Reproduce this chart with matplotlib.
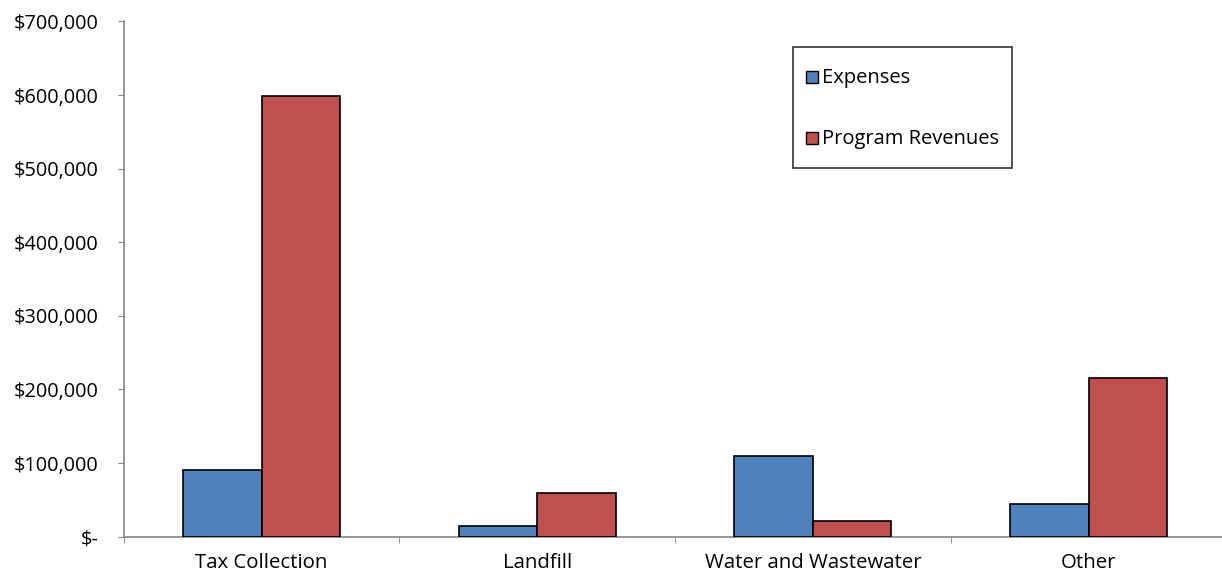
import matplotlib
matplotlib.use("Agg")
import matplotlib.pyplot as plt
import numpy as np
from matplotlib.ticker import FuncFormatter, FixedLocator
from matplotlib.legend_handler import HandlerPatch, update_from_first_child
from matplotlib.patches import Rectangle
from matplotlib.container import BarContainer

categories = ["Tax Collection", "Landfill", "Water and Wastewater", "Other"]
expenses = [90000, 14500, 110000, 45000]
program_revenues = [599000, 60000, 21000, 216000]
y_ticks = [0, 100000, 200000, 300000, 400000, 500000, 600000, 700000]

plt.rcParams["font.family"] = ["Open Sans", "DejaVu Sans"]

fig = plt.figure(figsize=(12.22, 5.75), dpi=100)
ax = fig.add_axes([0.1012, 0.0666, 0.9024, 0.8962])

x = np.arange(len(categories))
w = 0.285
ax.bar(x - w / 2, expenses, w, color="#4F81BD", edgecolor="black", linewidth=1.2,
       label="Expenses", zorder=3)
ax.bar(x + w / 2, program_revenues, w, color="#C0504D", edgecolor="black", linewidth=1.2,
       label="Program Revenues", zorder=3)

ax.set_xlim(-0.5, len(categories) - 0.5)
ax.set_ylim(0, 700000)
ax.set_yticks(y_ticks)
ax.yaxis.set_major_formatter(FuncFormatter(lambda v, p: "$-" if v == 0 else f"${v:,.0f}"))

# category labels centred, tick marks on the group boundaries
ax.set_xticks(x)
ax.set_xticklabels(categories, fontsize=14.7)
ax.tick_params(axis="x", which="major", length=0, pad=12)
ax.xaxis.set_minor_locator(FixedLocator(np.arange(-0.5, len(categories), 1.0)))
ax.tick_params(axis="x", which="minor", length=4, direction="out", color="#868686")
ax.tick_params(axis="y", length=4, direction="out", color="#868686", labelsize=14.3, pad=14)

for side in ("top", "right"):
    ax.spines[side].set_visible(False)
for side in ("left", "bottom"):
    ax.spines[side].set_color("#868686")
    ax.spines[side].set_linewidth(1.2)


def small_square(legend, orig_handle, xdescent, ydescent, width, height, fontsize):
    # square marker centred vertically in a taller legend row
    return Rectangle((-xdescent, -ydescent + (height - width) / 2), width, width)


leg = ax.legend(loc="upper left", bbox_to_anchor=(0.607, 0.950), frameon=True, fancybox=False,
                edgecolor="black", fontsize=14.5, handlelength=0.6, handleheight=2.15,
                handletextpad=0.2, labelspacing=1.4, borderpad=0.65, borderaxespad=0,
                handler_map={BarContainer: HandlerPatch(patch_func=small_square,
                                                        update_func=update_from_first_child)})
leg.get_frame().set_linewidth(1.2)
for h in leg.legend_handles:
    h.set_linewidth(1.0)

fig.savefig("out.png", dpi=100)
